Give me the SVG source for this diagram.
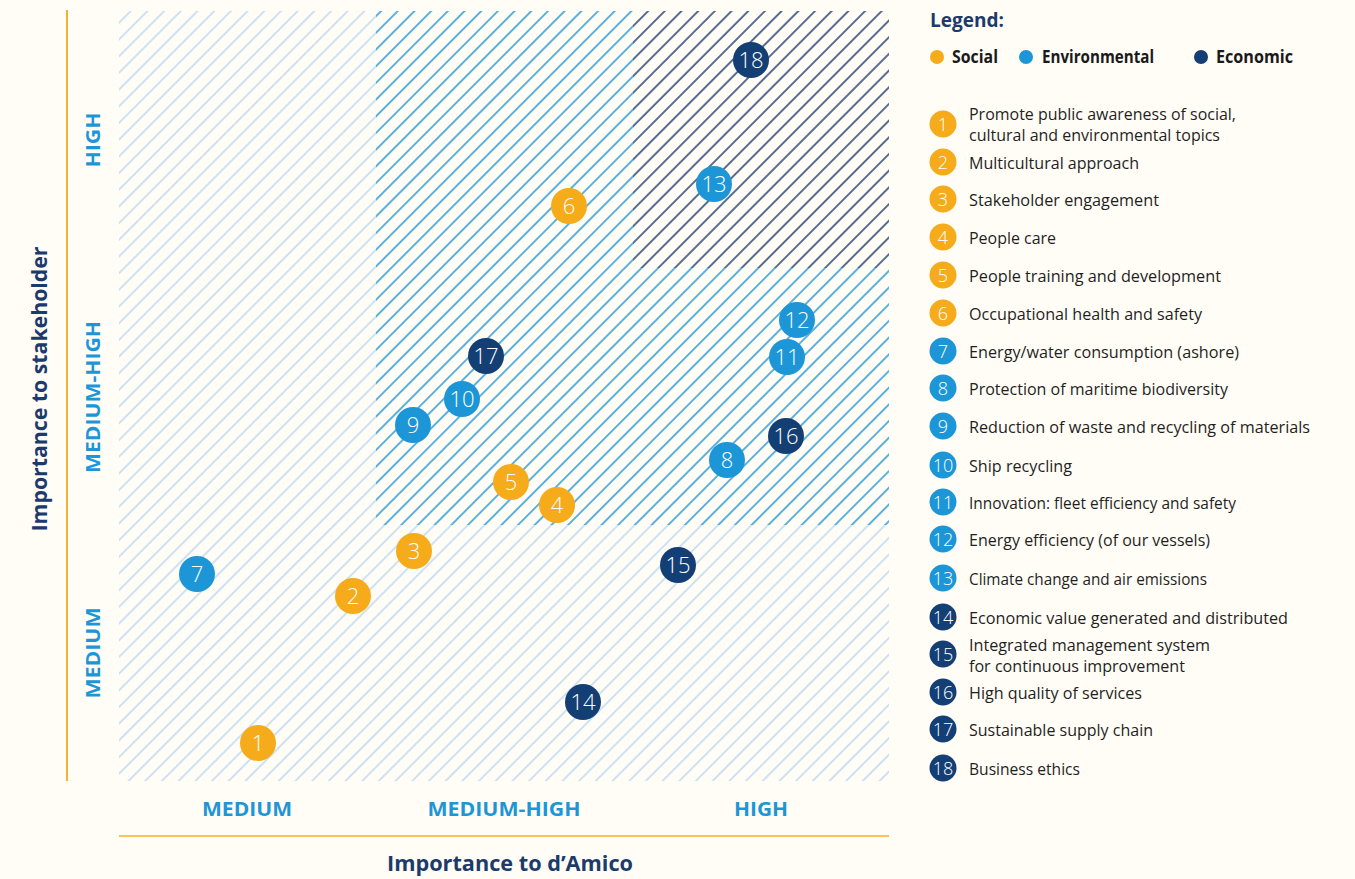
<svg xmlns="http://www.w3.org/2000/svg" width="1355" height="879" viewBox="0 0 1355 879">
<defs>
<pattern id="hl" width="11.8" height="11.8" patternUnits="userSpaceOnUse" patternTransform="rotate(45)"><line x1="5.9" y1="0" x2="5.9" y2="11.8" stroke="#bcd9f1" stroke-width="1.5"/></pattern>
<pattern id="hm" width="11.8" height="11.8" patternUnits="userSpaceOnUse" patternTransform="rotate(45)"><line x1="5.9" y1="0" x2="5.9" y2="11.8" stroke="#2699d6" stroke-width="1.5"/></pattern>
<pattern id="hd" width="11.8" height="11.8" patternUnits="userSpaceOnUse" patternTransform="rotate(45)"><line x1="5.9" y1="0" x2="5.9" y2="11.8" stroke="#213f70" stroke-width="1.5"/></pattern>
<style>
.bg{fill:#fffdf6}
.soc{fill:#f6ab1b}
.env{fill:#1c96d6}
.eco{fill:#133f74}
.num{font-family:"Open Sans","Noto Sans",sans-serif;fill:#ffffff;text-anchor:middle;font-weight:300}
.cn{font-size:22px}
.ln{font-size:18px}
.item{font-family:"Open Sans","Noto Sans",sans-serif;font-size:16.5px;fill:#1f1f1f;font-weight:400}
.axl{font-family:"Open Sans","Noto Sans",sans-serif;font-weight:700;font-size:20px;fill:#1e96d6;text-anchor:middle}
.title{font-family:"Open Sans","Noto Sans",sans-serif;font-weight:700;font-size:22px;fill:#1c3a6c;text-anchor:middle}
.cat{font-family:"Open Sans","Noto Sans",sans-serif;font-weight:700;font-size:17px;fill:#1a1a1a}
</style>
</defs>
<rect class="bg" x="0" y="0" width="1355" height="879"/>
<g id="matrix">
<rect x="119" y="11" width="770" height="770" fill="url(#hl)"/>
<rect class="bg" x="376" y="11" width="513" height="514"/>
<rect x="376" y="11" width="513" height="514" fill="url(#hm)"/>
<rect class="bg" x="633" y="11" width="256" height="257"/>
<rect x="633" y="11" width="256" height="257" fill="url(#hd)"/>
</g>
<g id="axes">
<line x1="67" y1="10" x2="67" y2="781" stroke="#f5b336" stroke-width="2"/>
<line x1="119" y1="836" x2="889" y2="836" stroke="#f8c45c" stroke-width="2"/>
<text class="axl" x="247" y="816" textLength="90" lengthAdjust="spacingAndGlyphs">MEDIUM</text>
<text class="axl" x="504" y="816" textLength="153" lengthAdjust="spacingAndGlyphs">MEDIUM-HIGH</text>
<text class="axl" x="761" y="816" textLength="54" lengthAdjust="spacingAndGlyphs">HIGH</text>
<text class="title" x="510" y="871" textLength="246" lengthAdjust="spacingAndGlyphs">Importance to d’Amico</text>
<text class="axl" transform="translate(100,140) rotate(-90)" textLength="55" lengthAdjust="spacingAndGlyphs">HIGH</text>
<text class="axl" transform="translate(100,397) rotate(-90)" textLength="152" lengthAdjust="spacingAndGlyphs">MEDIUM-HIGH</text>
<text class="axl" transform="translate(100,653) rotate(-90)" textLength="91" lengthAdjust="spacingAndGlyphs">MEDIUM</text>
<text class="title" transform="translate(47,389) rotate(-90)" textLength="285" lengthAdjust="spacingAndGlyphs">Importance to stakeholder</text>
</g>
<g id="points">
<g id="p1"><circle class="soc" cx="258" cy="743" r="18"/><text class="num cn" x="258" y="751">1</text></g>
<g id="p2"><circle class="soc" cx="353" cy="596" r="18"/><text class="num cn" x="353" y="604">2</text></g>
<g id="p3"><circle class="soc" cx="414" cy="551" r="18"/><text class="num cn" x="414" y="559">3</text></g>
<g id="p4"><circle class="soc" cx="557" cy="505" r="18"/><text class="num cn" x="557" y="513">4</text></g>
<g id="p5"><circle class="soc" cx="511" cy="482" r="18"/><text class="num cn" x="511" y="490">5</text></g>
<g id="p6"><circle class="soc" cx="569" cy="206" r="18"/><text class="num cn" x="569" y="214">6</text></g>
<g id="p7"><circle class="env" cx="197" cy="574" r="18"/><text class="num cn" x="197" y="582">7</text></g>
<g id="p8"><circle class="env" cx="727" cy="460" r="18"/><text class="num cn" x="727" y="468">8</text></g>
<g id="p9"><circle class="env" cx="413" cy="425" r="18"/><text class="num cn" x="413" y="433">9</text></g>
<g id="p10"><circle class="env" cx="462" cy="399" r="18"/><text class="num cn" x="462" y="407">10</text></g>
<g id="p11"><circle class="env" cx="787" cy="357" r="18"/><text class="num cn" x="787" y="365">11</text></g>
<g id="p12"><circle class="env" cx="797" cy="320" r="18"/><text class="num cn" x="797" y="328">12</text></g>
<g id="p13"><circle class="env" cx="714" cy="184" r="18"/><text class="num cn" x="714" y="192">13</text></g>
<g id="p14"><circle class="eco" cx="583" cy="702" r="18"/><text class="num cn" x="583" y="710">14</text></g>
<g id="p15"><circle class="eco" cx="678" cy="565" r="18"/><text class="num cn" x="678" y="573">15</text></g>
<g id="p16"><circle class="eco" cx="786" cy="436" r="18"/><text class="num cn" x="786" y="444">16</text></g>
<g id="p17"><circle class="eco" cx="486" cy="356" r="18"/><text class="num cn" x="486" y="364">17</text></g>
<g id="p18"><circle class="eco" cx="751" cy="60" r="18"/><text class="num cn" x="751" y="68">18</text></g>
</g>
<g id="legend">
<text x="930" y="27" font-family="Open Sans, Noto Sans, sans-serif" font-weight="700" font-size="19" fill="#1c3a6c" textLength="74" lengthAdjust="spacingAndGlyphs">Legend:</text>
<circle class="soc" cx="937" cy="57" r="7"/><text class="cat" x="952" y="63" textLength="46" lengthAdjust="spacingAndGlyphs">Social</text>
<circle class="env" cx="1026" cy="57" r="7"/><text class="cat" x="1042" y="63" textLength="112" lengthAdjust="spacingAndGlyphs">Environmental</text>
<circle class="eco" cx="1201" cy="57" r="7"/><text class="cat" x="1216" y="63" textLength="77" lengthAdjust="spacingAndGlyphs">Economic</text>
</g>
<g id="legend-items">
<g id="l1"><circle class="soc" cx="943" cy="124" r="13.5"/><text class="num ln" x="943" y="130.5">1</text><text class="item" x="969" y="120" textLength="267" lengthAdjust="spacingAndGlyphs">Promote public awareness of social,</text><text class="item" x="969" y="141" textLength="251" lengthAdjust="spacingAndGlyphs">cultural and environmental topics</text></g>
<g id="l2"><circle class="soc" cx="943" cy="162" r="13.5"/><text class="num ln" x="943" y="168.5">2</text><text class="item" x="969" y="169" textLength="170" lengthAdjust="spacingAndGlyphs">Multicultural approach</text></g>
<g id="l3"><circle class="soc" cx="943" cy="199" r="13.5"/><text class="num ln" x="943" y="205.5">3</text><text class="item" x="969" y="206" textLength="190" lengthAdjust="spacingAndGlyphs">Stakeholder engagement</text></g>
<g id="l4"><circle class="soc" cx="943" cy="237" r="13.5"/><text class="num ln" x="943" y="243.5">4</text><text class="item" x="969" y="244" textLength="87" lengthAdjust="spacingAndGlyphs">People care</text></g>
<g id="l5"><circle class="soc" cx="943" cy="275" r="13.5"/><text class="num ln" x="943" y="281.5">5</text><text class="item" x="969" y="282" textLength="252" lengthAdjust="spacingAndGlyphs">People training and development</text></g>
<g id="l6"><circle class="soc" cx="943" cy="313" r="13.5"/><text class="num ln" x="943" y="319.5">6</text><text class="item" x="969" y="320" textLength="233" lengthAdjust="spacingAndGlyphs">Occupational health and safety</text></g>
<g id="l7"><circle class="env" cx="943" cy="351" r="13.5"/><text class="num ln" x="943" y="357.5">7</text><text class="item" x="969" y="358" textLength="270" lengthAdjust="spacingAndGlyphs">Energy/water consumption (ashore)</text></g>
<g id="l8"><circle class="env" cx="943" cy="388" r="13.5"/><text class="num ln" x="943" y="394.5">8</text><text class="item" x="969" y="395" textLength="259" lengthAdjust="spacingAndGlyphs">Protection of maritime biodiversity</text></g>
<g id="l9"><circle class="env" cx="943" cy="426" r="13.5"/><text class="num ln" x="943" y="432.5">9</text><text class="item" x="969" y="433" textLength="341" lengthAdjust="spacingAndGlyphs">Reduction of waste and recycling of materials</text></g>
<g id="l10"><circle class="env" cx="943" cy="465" r="13.5"/><text class="num ln" x="943" y="471.5">10</text><text class="item" x="969" y="472" textLength="103" lengthAdjust="spacingAndGlyphs">Ship recycling</text></g>
<g id="l11"><circle class="env" cx="943" cy="502" r="13.5"/><text class="num ln" x="943" y="508.5">11</text><text class="item" x="969" y="509" textLength="267" lengthAdjust="spacingAndGlyphs">Innovation: fleet efficiency and safety</text></g>
<g id="l12"><circle class="env" cx="943" cy="539" r="13.5"/><text class="num ln" x="943" y="545.5">12</text><text class="item" x="969" y="546" textLength="241" lengthAdjust="spacingAndGlyphs">Energy efficiency (of our vessels)</text></g>
<g id="l13"><circle class="env" cx="943" cy="578" r="13.5"/><text class="num ln" x="943" y="584.5">13</text><text class="item" x="969" y="585" textLength="238" lengthAdjust="spacingAndGlyphs">Climate change and air emissions</text></g>
<g id="l14"><circle class="eco" cx="943" cy="617" r="13.5"/><text class="num ln" x="943" y="623.5">14</text><text class="item" x="969" y="624" textLength="319" lengthAdjust="spacingAndGlyphs">Economic value generated and distributed</text></g>
<g id="l15"><circle class="eco" cx="943" cy="654" r="13.5"/><text class="num ln" x="943" y="660.5">15</text><text class="item" x="969" y="651" textLength="241" lengthAdjust="spacingAndGlyphs">Integrated management system</text><text class="item" x="969" y="672" textLength="216" lengthAdjust="spacingAndGlyphs">for continuous improvement</text></g>
<g id="l16"><circle class="eco" cx="943" cy="692" r="13.5"/><text class="num ln" x="943" y="698.5">16</text><text class="item" x="969" y="699" textLength="173" lengthAdjust="spacingAndGlyphs">High quality of services</text></g>
<g id="l17"><circle class="eco" cx="943" cy="729" r="13.5"/><text class="num ln" x="943" y="735.5">17</text><text class="item" x="969" y="736" textLength="184" lengthAdjust="spacingAndGlyphs">Sustainable supply chain</text></g>
<g id="l18"><circle class="eco" cx="943" cy="768" r="13.5"/><text class="num ln" x="943" y="774.5">18</text><text class="item" x="969" y="775" textLength="111" lengthAdjust="spacingAndGlyphs">Business ethics</text></g>
</g>
</svg>
